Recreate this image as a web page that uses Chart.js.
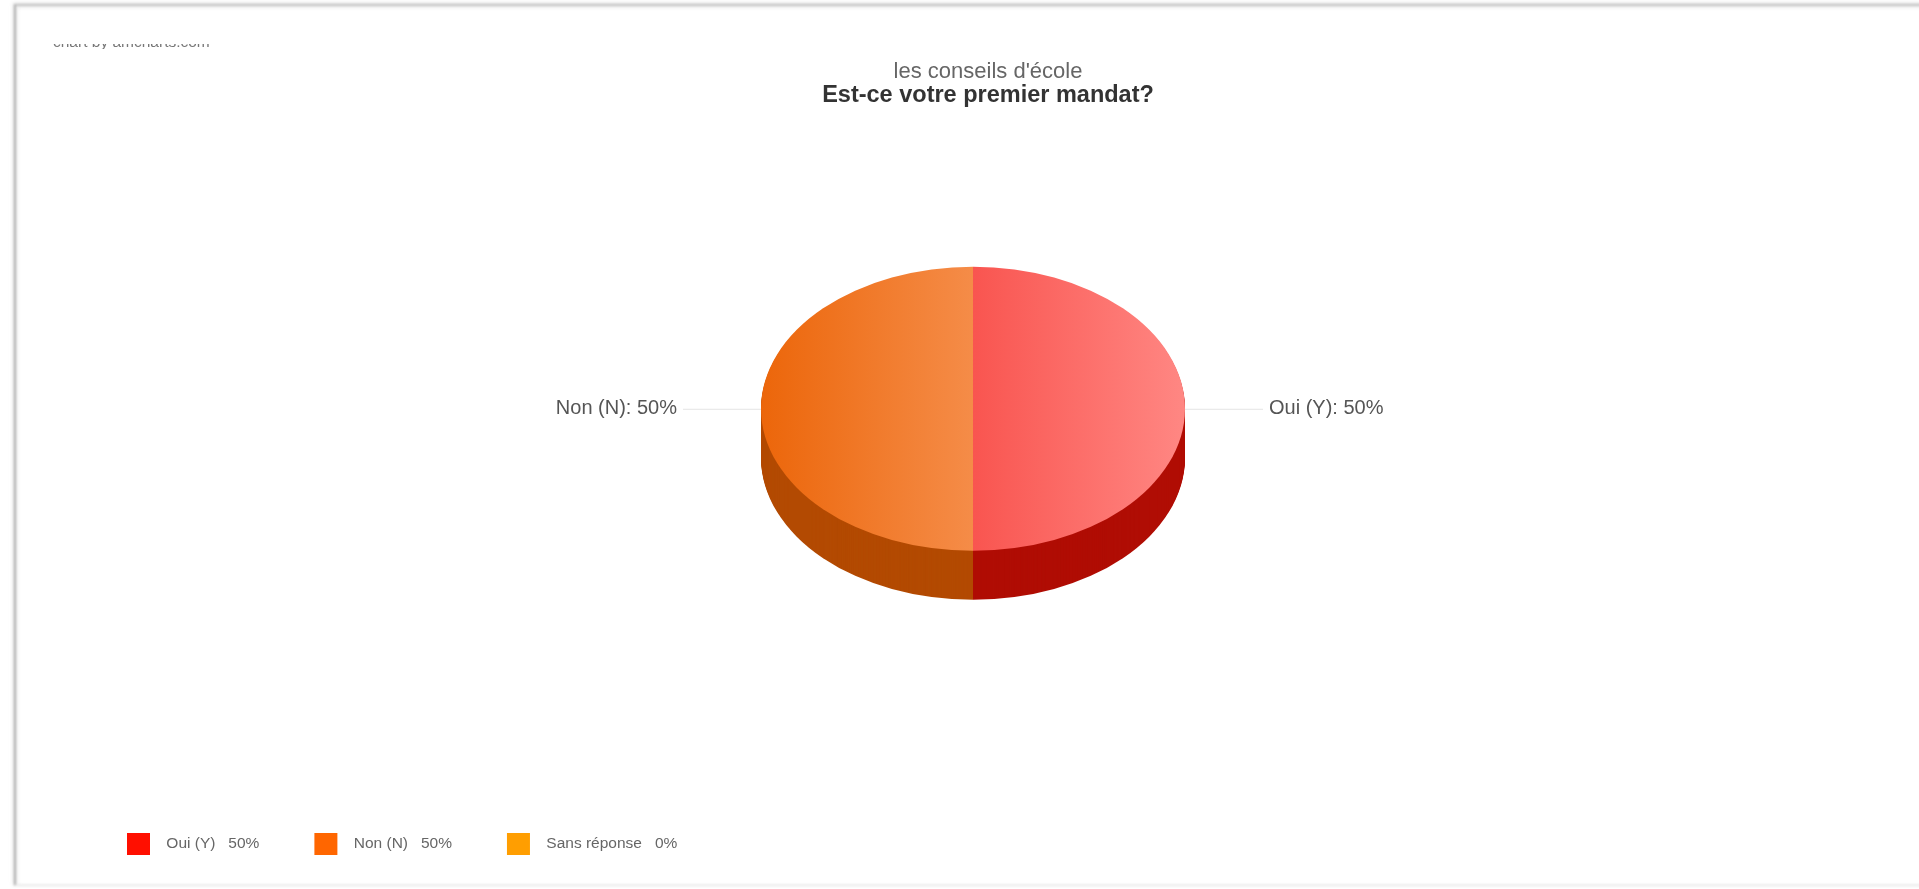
<!DOCTYPE html>
<html lang="fr">
<head>
<meta charset="utf-8">
<title>Est-ce votre premier mandat?</title>
<style>
  html, body { margin: 0; height: 100%; background: #fff; overflow: hidden; }
  .card { position: absolute; left: 14px; top: 4px; right: -10px; bottom: 3px;
          border-left: 2px solid #b0b0b0; border-top: 2px solid #c4c4c4; border-bottom: 2px solid #ececec;
          box-shadow: -1px -1px 3px #ddd, inset 2px 2px 3px #eee; filter: blur(0.8px); }
  .credit { position: absolute; left: 53px; top: 44px; width: 170px; height: 5px; overflow: hidden; filter: blur(0.6px); }
  .credit span { position: absolute; left: 0; bottom: -2px; font: 15.5px "Liberation Sans"; color: #777; white-space: nowrap; }
  .wrap { position: absolute; left: 0; top: 0; width: 1904px; height: 889px; filter: blur(0.6px); }
</style>
</head>
<body>
<div class="card"></div>
<div class="credit"><span>chart by amcharts.com</span></div>
<div class="wrap"><canvas id="myChart"></canvas></div>

<script src="https://cdn.jsdelivr.net/npm/chart.js"></script>
<script>
const categories = ['Oui (Y)', 'Non (N)', 'Sans réponse'];
const values = [50, 50, 0];
const sliceColors = ['#FF0F00', '#FF6600', '#FF9E01'];
const sideColors = ['#B00D04', '#B34A02', '#B36F01'];
// left and right end of each top face gradient
const faceColors = [['#F95550', '#FF8783'], ['#EC660A', '#F58C48'], ['#FFB030', '#FFC860']];

const pieRadius = 212;
const squash = 0.67;
const depth = 49;
const shiftX = -15;
const shiftY = -39;

function placePie(ctx, arc, dy) {
  ctx.translate(arc.x + shiftX, arc.y + shiftY + dy);
  ctx.scale(1, squash);
  ctx.translate(-arc.x, -arc.y);
}

function drawArc(ctx, arc, fill) {
  const options = arc.options;
  arc.options = Object.create(options, { backgroundColor: { value: fill } });
  arc.draw(ctx);
  arc.options = options;
}

// chart.js only has round pies, so tilt it here and add the side wall
const tiltedPie = {
  id: 'tiltedPie',
  beforeDatasetDraw(chart, args) {
    const ctx = chart.ctx;
    const arcs = args.meta.data;

    for (let dy = depth; dy > 0; dy--) {
      arcs.forEach((arc, i) => {
        ctx.save();
        placePie(ctx, arc, dy);
        drawArc(ctx, arc, sideColors[i]);
        ctx.restore();
      });
    }

    arcs.forEach((arc, i) => {
      const sign = Math.cos((arc.startAngle + arc.endAngle) / 2) >= 0 ? 1 : -1;
      const from = sign > 0 ? arc.x : arc.x - arc.outerRadius;
      const gradient = ctx.createLinearGradient(from, 0, from + arc.outerRadius, 0);
      gradient.addColorStop(0, faceColors[i][0]);
      gradient.addColorStop(1, faceColors[i][1]);
      ctx.save();
      placePie(ctx, arc, 0);
      drawArc(ctx, arc, gradient);
      ctx.restore();
    });

    // outside labels with leader line
    arcs.forEach((arc, i) => {
      if (values[i] === 0) return;
      const sign = Math.cos((arc.startAngle + arc.endAngle) / 2) >= 0 ? 1 : -1;
      const y = arc.y + shiftY;
      const edge = arc.x + shiftX + sign * arc.outerRadius;
      ctx.save();
      ctx.strokeStyle = '#e4e4e4';
      ctx.lineWidth = 1;
      ctx.beginPath();
      ctx.moveTo(edge, y + 0.5);
      ctx.lineTo(edge + sign * 78, y + 0.5);
      ctx.stroke();
      ctx.fillStyle = '#555555';
      ctx.font = '20px "Liberation Sans"';
      ctx.textAlign = sign > 0 ? 'left' : 'right';
      ctx.textBaseline = 'middle';
      ctx.fillText(categories[i] + ': ' + values[i] + '%', edge + sign * 84, y);
      ctx.restore();
    });
    return false;
  }
};

new Chart(document.getElementById('myChart'), {
  type: 'pie',
  data: {
    labels: categories,
    datasets: [{
      data: values,
      backgroundColor: sliceColors,
      borderWidth: 0,
      radius: pieRadius
    }]
  },
  options: {
    responsive: true,
    maintainAspectRatio: false,
    animation: false,
    layout: { padding: { left: 72, top: 0, bottom: 24 } },
    plugins: {
      title: {
        display: true,
        text: "les conseils d'école",
        color: '#666666',
        font: { family: '"Liberation Sans"', size: 22, weight: 'normal', lineHeight: 1 },
        padding: { top: 61, bottom: 1 }
      },
      subtitle: {
        display: true,
        text: 'Est-ce votre premier mandat?',
        color: '#333333',
        font: { family: '"Liberation Sans"', size: 23.5, weight: 'bold', lineHeight: 1 },
        padding: { top: 0, bottom: 10 }
      },
      legend: {
        position: 'bottom',
        align: 'start',
        labels: {
          boxWidth: 23,
          boxHeight: 22,
          padding: 55,
          color: '#666666',
          font: { family: '"Liberation Sans"', size: 15.5 },
          generateLabels: () => categories.map((name, i) => ({
            text: '  ' + name + '   ' + values[i] + '%',
            fillStyle: sliceColors[i],
            fontColor: '#666666',
            lineWidth: 0,
            strokeStyle: 'transparent',
            index: i
          }))
        }
      },
      tooltip: { enabled: false }
    }
  },
  plugins: [tiltedPie]
});
</script>
</body>
</html>
